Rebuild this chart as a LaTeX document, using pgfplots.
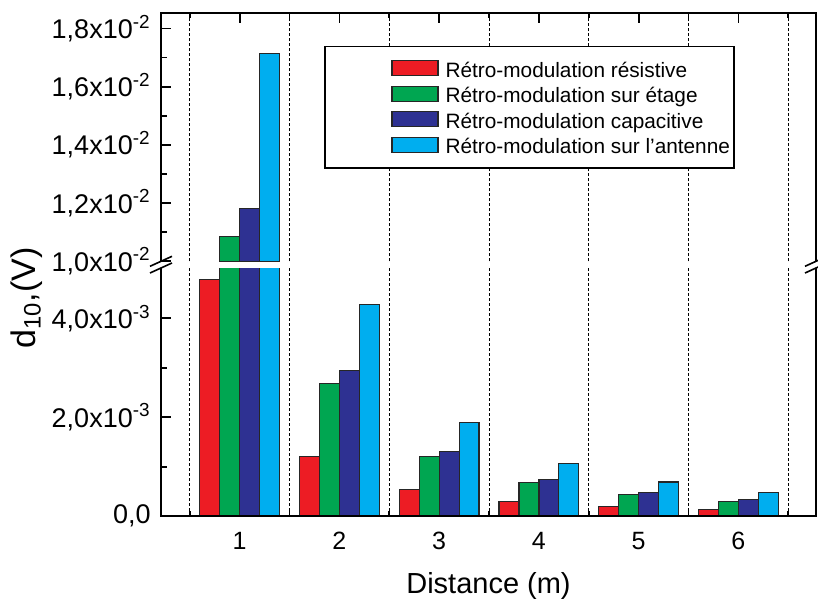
\documentclass[border=0pt]{standalone}
\usepackage{pgfplots}
\usepackage{pgfplotstable}
\pgfplotsset{compat=1.18}
\usepackage{fontspec}
\setmainfont{Liberation Sans}
\definecolor{cred}{RGB}{237,28,36}
\definecolor{cgreen}{RGB}{0,166,81}
\definecolor{cblue}{RGB}{46,49,146}
\definecolor{ccyan}{RGB}{0,174,239}
\pgfplotstableread{
x res etage cap ant
1 0.00479 0.010845 0.01182 0.01715
2 0.00120 0.00269 0.00295 0.00428
3 0.00054 0.00120 0.00131 0.00190
4 0.00030 0.00068 0.00074 0.00107
5 0.00020 0.00044 0.00048 0.00069
6 0.000135 0.00030 0.00034 0.00048
}\datatable
\pgfplotsset{
  common/.style={
    scale only axis, width=327.5pt,
    xmin=0.211, xmax=6.778,
    ybar, bar width=0.2,
    axis line style={draw=none},
    tick align=inside,
    tick style={black, line width=0.9pt},
    major tick length=5pt, minor tick length=3pt,
    ytick pos=left,
    scaled y ticks=false,
    xtick={1,2,3,4,5,6},
    extra x ticks={0.5,1.5,2.5,3.5,4.5,5.5,6.5},
    extra x tick labels={},
    extra x tick style={grid=major, major tick length=2.5pt},
    major grid style={black, line width=0.4pt, dash pattern=on 1.5pt off 1pt},
    yticklabel style={font=\fontsize{13.5}{16}\selectfont, anchor=east, inner sep=0pt, xshift=-5pt},
    xticklabel style={font=\fontsize{12.5}{15}\selectfont, anchor=north, inner sep=0pt, yshift=-7.8pt},
    every axis plot/.append style={draw=black!85, line width=0.6pt},
    legend image code/.code={\draw[#1] (0pt,-2.5pt) rectangle (23pt,5pt);},
  }
}
\begin{document}
\begin{tikzpicture}
\useasboundingbox (0,0) rectangle (409pt,300.5pt);
% lower part
\begin{axis}[common, name=lower,
  at={(80.5pt,42.5pt)}, anchor=south west, height=124pt,
  ymin=0, ymax=0.00502,
  xtick pos=left,
  xticklabels={1,2,3,4,5,6},
  ytick={0,0.002,0.004},
  minor ytick={0.001,0.003},
  yticklabels={{0,0},{2,0x10\textsuperscript{-3}},{4,0x10\textsuperscript{-3}}},
]
\addplot[fill=cred, bar shift=-0.3] table[x=x,y=res]{\datatable};
\addplot[fill=cgreen, bar shift=-0.1] table[x=x,y=etage]{\datatable};
\addplot[fill=cblue, bar shift=0.1] table[x=x,y=cap]{\datatable};
\addplot[fill=ccyan, bar shift=0.3] table[x=x,y=ant]{\datatable};
\end{axis}
% upper part
\begin{axis}[common, name=upper,
  at={(80.5pt,169.85pt)}, anchor=south west, height=123.9pt,
  ymin=0.01, ymax=0.018515,
  xtick pos=right,
  xticklabels={},
  ytick={0.010,0.012,0.014,0.016,0.018},
  minor ytick={0.011,0.013,0.015,0.017},
  yticklabels={{1,0x10\textsuperscript{-2}},{1,2x10\textsuperscript{-2}},{1,4x10\textsuperscript{-2}},{1,6x10\textsuperscript{-2}},{1,8x10\textsuperscript{-2}}},
  legend cell align=left,
  legend style={draw=none, fill=none, at={(0.3511,0.818)}, anchor=north west,
    inner sep=0pt, column sep=3.5pt, row sep=1.3pt,
    nodes={inner sep=0pt, text height=9pt, text depth=2.5pt, font=\fontsize{10.4}{12}\selectfont}},
]
\draw[line width=0.6pt, fill=white] (rel axis cs:0.2504,0.3765) rectangle (rel axis cs:0.8748,0.866);
\addlegendimage{fill=cred, draw=black!85, line width=0.6pt}
\addlegendentry{Rétro-modulation résistive}
\addlegendimage{fill=cgreen, draw=black!85, line width=0.6pt}
\addlegendentry{Rétro-modulation sur étage}
\addlegendimage{fill=cblue, draw=black!85, line width=0.6pt}
\addlegendentry{Rétro-modulation capacitive}
\addlegendimage{fill=ccyan, draw=black!85, line width=0.6pt}
\addlegendentry{Rétro-modulation sur l'antenne}
\addplot[fill=cred, bar shift=-0.3, forget plot, restrict y to domain=0.01:1] table[x=x,y=res]{\datatable};
\addplot[fill=cgreen, bar shift=-0.1, forget plot, restrict y to domain=0.01:1] table[x=x,y=etage]{\datatable};
\addplot[fill=cblue, bar shift=0.1, forget plot, restrict y to domain=0.01:1] table[x=x,y=cap]{\datatable};
\addplot[fill=ccyan, bar shift=0.3, forget plot, restrict y to domain=0.01:1] table[x=x,y=ant]{\datatable};
\end{axis}
% frame
\draw[line width=1pt] (lower.north west) -- (lower.south west) -- (lower.south east) -- (lower.north east);
\draw[line width=1pt] (upper.south west) -- (upper.north west) -- (upper.north east) -- (upper.south east);
% break marks
\foreach \p in {upper.south west, lower.north west, upper.south east, lower.north east}
  \draw[line width=0.8pt] ([shift={(-5.5pt,-2.5pt)}]\p) -- ([shift={(5.5pt,2.5pt)}]\p);
% axis labels
\node[rotate=90, font=\fontsize{17}{20}\selectfont] at (13.3pt,151.5pt) {d\textsubscript{10},(V)};
\node[anchor=base, font=\fontsize{14.5}{17}\selectfont] at (244.25pt,4pt) {Distance (m)};
\end{tikzpicture}
\end{document}
